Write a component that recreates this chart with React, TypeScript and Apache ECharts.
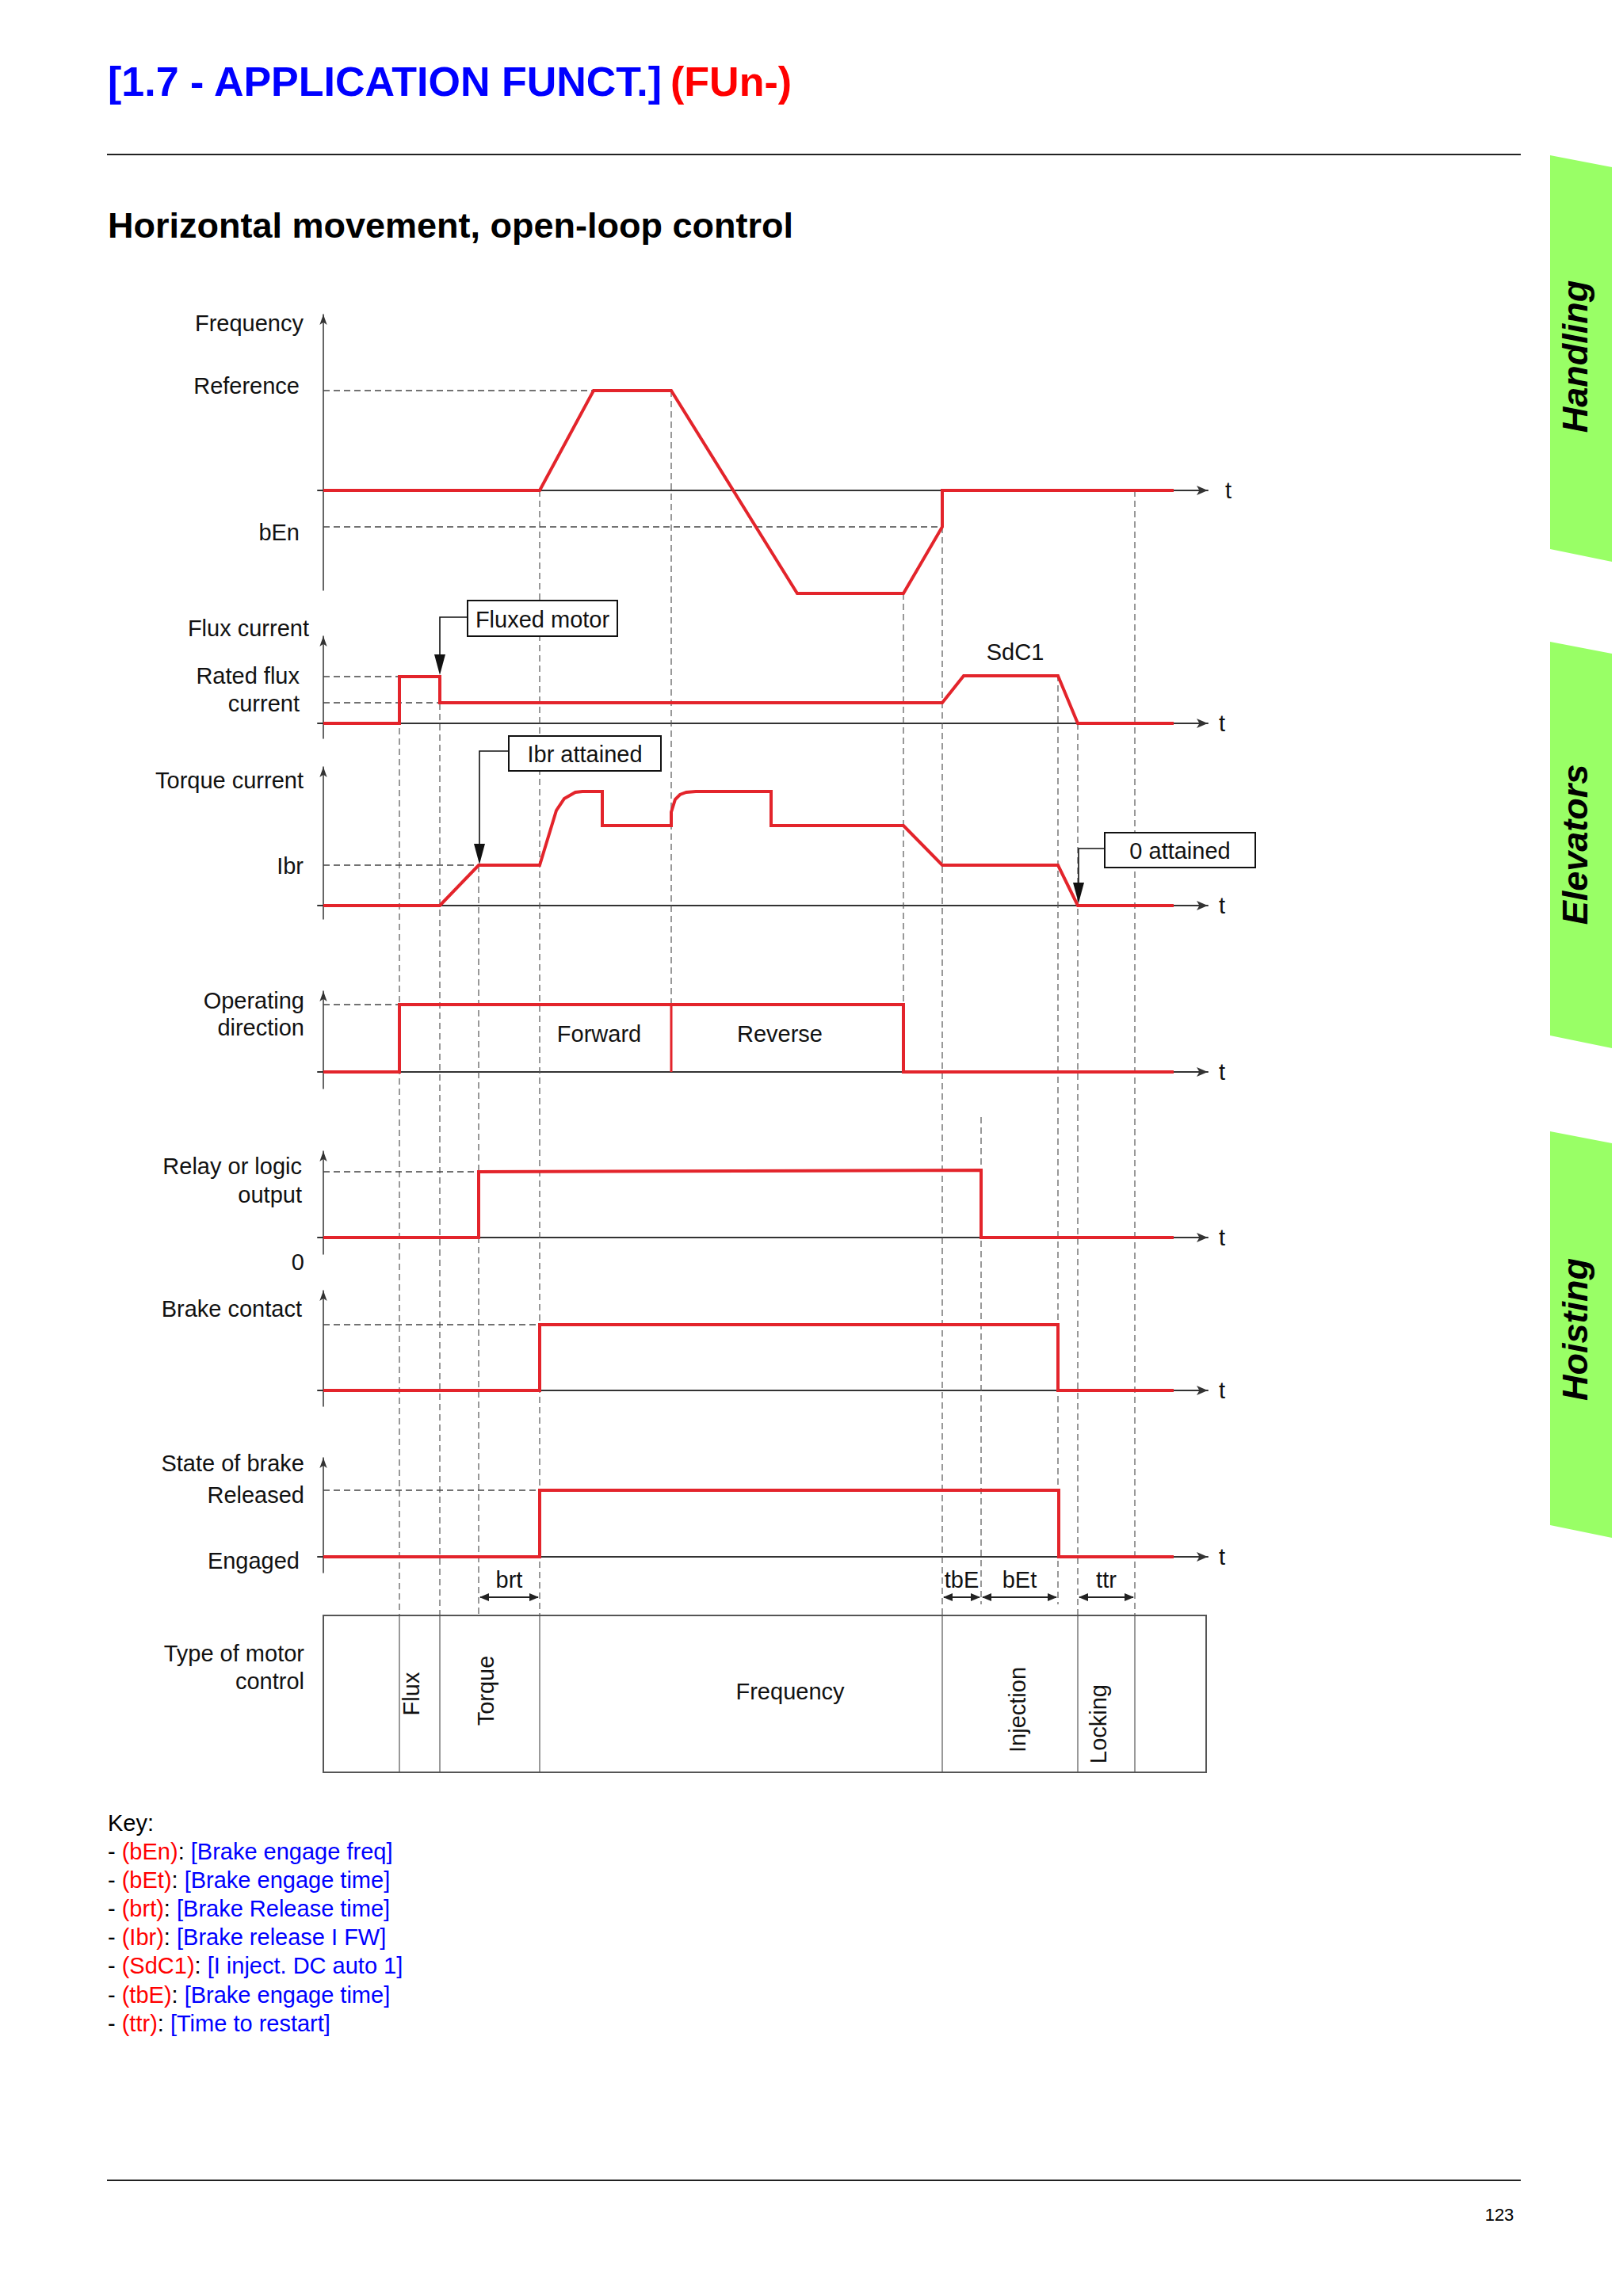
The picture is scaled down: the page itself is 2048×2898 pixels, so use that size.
import React, { useEffect, useRef } from "react";
import * as echarts from "echarts";

const FONT = '"Liberation Sans", Arial, Helvetica, sans-serif';
const RED = "#e3242b";
const INK = "#111111";
const AXIS_COLOR = "#333333";
const BLUE = "#0000ff";
const KEY_RED = "#ff0000";
const LABEL_SIZE = 29;

// ---------------- signal data (t axis units) ----------------
const freqTimes = [0, 273, 341, 439, 598, 732, 781, 781, 1073];
const freqValues = [0, 0, 126, 126, -130, -130, -46, 0, 0];
const fluxTimes = [0, 96, 96, 147, 147, 781, 808, 927, 952, 1073];
const fluxValues = [0, 0, 59, 59, 26, 26, 60, 60, 0, 0];
const torqueTimes = [0, 147, 196, 273, 294, 304, 318, 327, 352, 352, 439, 439, 444, 450, 458, 470, 565, 565, 732, 781, 927, 952, 1073];
const torqueValues = [0, 0, 51, 51, 120, 135, 143, 144, 144, 101, 101, 118, 134, 140, 143, 144, 144, 101, 101, 51, 51, 0, 0];
const directionTimes = [0, 96, 96, 732, 732, 1073];
const directionValues = [0, 0, 85, 85, 0, 0];
const directionSplitTime = 439;
const directionSplitLevel = 85;
const relayTimes = [0, 196, 196, 830, 830, 1073];
const relayValues = [0, 0, 83, 85, 0, 0];
const contactTimes = [0, 273, 273, 927, 927, 1073];
const contactValues = [0, 0, 83, 83, 0, 0];
const brakeTimes = [0, 273, 273, 928, 928, 1073];
const brakeValues = [0, 0, 84, 84, 0, 0];

// dashed reference levels per panel
const refLevels = [[126, -46], [59, 26], [51], [85], [83], [83], [84]];
const refEnds = [[341, 781], [96, 147], [196], [96], [196], [273], [273]];

// panel layout
const panelTops = [397, 803, 968, 1251, 1453, 1629, 1840];
const panelHeights = [348, 129, 192, 123, 130, 146, 145];
const panelMins = [-126, -19, -17, -21, -21, -20, -20];
const panelMaxs = [222, 110, 175, 102, 109, 126, 125];
const tNameGaps = [22, 14, 14, 14, 14, 14, 14];

// vertical event guides (t, page-y from, page-y to)
const guideTimes = [96, 147, 196, 273, 439, 732, 781, 830, 927, 952, 1024];
const guideTops = [854, 888, 1093, 619, 493, 749, 665, 1410, 852, 913, 619];
const guideBottoms = [2039, 2039, 2039, 2039, 1268, 1268, 2039, 2025, 2025, 2039, 2039];

// motor control table
const boxTimes = [0, 1114];
const boxRows = [2039, 2237];
const boxDividerTimes = [96, 147, 273, 781, 952, 1024];

// callouts
const calloutTexts = ["Fluxed motor", "Ibr attained", "0 attained"];
const calloutLeft = [182, 234, 986];
const calloutRight = [371, 426, 1176];
const calloutTop = [758, 929, 1051];
const calloutBottom = [803, 973, 1095];
const calloutStemY = [779, 948, 1071];
const calloutTargetT = [147, 197, 953];
const calloutTargetY = [852, 1091, 1140];

// timing intervals
const timingLabels = ["brt", "tbE", "bEt", "ttr"];
const timingStart = [196, 781, 830, 952];
const timingEnd = [273, 830, 927, 1024];
const timingArrowY = 2016;
const timingLabelY = 1994;

// texts placed on the time axis
const diagramTexts = ["Forward", "Reverse", "SdC1", "Flux", "Torque", "Frequency", "Injection", "Locking"];
const diagramTextT = [348, 576, 873, 111, 205, 589, 876, 978];
const diagramTextY = [1305, 1305, 823, 2138, 2134, 2135, 2158, 2176];
const diagramTextRot = [0, 0, 0, 1, 1, 0, 1, 1];

// left side labels
const sideLabels = ["Frequency", "Reference", "bEn", "Flux current", "Rated flux", "current", "Torque current", "Ibr",
  "Operating", "direction", "Relay or logic", "output", "0", "Brake contact", "State of brake", "Released", "Engaged",
  "Type of motor", "control"];
const sideLabelX = [383, 378, 378, 390, 378, 378, 383, 383, 384, 384, 381, 381, 384, 381, 384, 384, 378, 384, 384];
const sideLabelY = [408, 487, 672, 793, 853, 888, 985, 1093, 1263, 1297, 1472, 1508, 1593, 1652, 1847, 1887, 1970, 2087, 2122];

// key
const keyCodes = ["(bEn)", "(bEt)", "(brt)", "(Ibr)", "(SdC1)", "(tbE)", "(ttr)"];
const keyNames = ["[Brake engage freq]", "[Brake engage time]", "[Brake Release time]", "[Brake release I FW]",
  "[I inject. DC auto 1]", "[Brake engage time]", "[Time to restart]"];
const keyY = [2337, 2373, 2409, 2445, 2481, 2518, 2554];

// side tabs
const tabNames = ["Handling", "Elevators", "Hoisting"];
const tabTops = [196, 810, 1428];
const tabCenters = [450, 1066, 1678];

function font(size: number, bold = false, italic = false) {
  return `${italic ? "italic " : ""}${bold ? "bold " : ""}${size}px ${FONT}`;
}

function txt(text: string, x: number, y: number, o: any = {}) {
  const align = o.align || "left";
  return {
    type: "text",
    x,
    y,
    z: 20,
    rotation: o.rotation || 0,
    silent: true,
    style: {
      text,
      font: font(o.size || LABEL_SIZE, o.bold, o.italic),
      fill: o.color || INK,
      align,
      textAlign: align,
      verticalAlign: "middle",
      textVerticalAlign: "middle",
    },
  };
}

function textEl(text: string, x: number, y: number, rotation = 0) {
  return {
    type: "text",
    x,
    y,
    rotation,
    style: {
      text,
      font: font(LABEL_SIZE),
      fill: INK,
      align: "center",
      textAlign: "center",
      verticalAlign: "middle",
      textVerticalAlign: "middle",
    },
  };
}

function buildOption() {
  const signals = [
    [freqTimes, freqValues],
    [fluxTimes, fluxValues],
    [torqueTimes, torqueValues],
    [directionTimes, directionValues],
    [relayTimes, relayValues],
    [contactTimes, contactValues],
    [brakeTimes, brakeValues],
  ];

  const grid: any[] = [{ left: 401, width: 1123, top: 0, height: 2898 }];
  const xAxis: any[] = [{ gridIndex: 0, type: "value", min: -7, max: 1116, show: false }];
  const yAxis: any[] = [{ gridIndex: 0, type: "value", min: 0, max: 2898, inverse: true, show: false }];
  const series: any[] = [];

  signals.forEach(([times, values], k) => {
    const gi = k + 1;
    grid.push({ left: 401, width: 1123, top: panelTops[k], height: panelHeights[k] });
    xAxis.push({
      gridIndex: gi,
      type: "value",
      min: -7,
      max: 1116,
      axisLine: {
        show: true,
        onZero: true,
        symbol: ["none", "arrow"],
        symbolSize: [9, 14],
        lineStyle: { color: AXIS_COLOR, width: 2 },
      },
      axisTick: { show: false },
      axisLabel: { show: false },
      splitLine: { show: false },
      name: "t",
      nameLocation: "end",
      nameGap: tNameGaps[k],
      nameTextStyle: { fontSize: LABEL_SIZE, fontFamily: FONT, color: INK, verticalAlign: "middle" },
    });
    yAxis.push({
      gridIndex: gi,
      type: "value",
      min: panelMins[k],
      max: panelMaxs[k],
      axisLine: {
        show: true,
        onZero: true,
        symbol: ["none", "arrow"],
        symbolSize: [7, 13],
        lineStyle: { color: AXIS_COLOR, width: 1.5 },
      },
      axisTick: { show: false },
      axisLabel: { show: false },
      splitLine: { show: false },
    });
    series.push({
      type: "line",
      xAxisIndex: gi,
      yAxisIndex: gi,
      data: (times as number[]).map((t, i) => [t, (values as number[])[i]]),
      symbol: "none",
      showSymbol: false,
      clip: false,
      silent: true,
      z: 5,
      lineStyle: { color: RED, width: 4, join: "miter" },
    });
    refLevels[k].forEach((lv, j) => {
      series.push({
        type: "line",
        xAxisIndex: gi,
        yAxisIndex: gi,
        data: [[0, lv], [refEnds[k][j], lv]],
        symbol: "none",
        showSymbol: false,
        silent: true,
        z: 3,
        lineStyle: { color: "#444444", width: 1.5, type: [8, 5] },
      });
    });
  });

  // Forward / Reverse boundary
  series.push({
    type: "line",
    xAxisIndex: 4,
    yAxisIndex: 4,
    data: [[directionSplitTime, directionSplitLevel], [directionSplitTime, 0]],
    symbol: "none",
    silent: true,
    z: 5,
    lineStyle: { color: RED, width: 3 },
  });

  // vertical guides
  series.push({
    type: "custom",
    xAxisIndex: 0,
    yAxisIndex: 0,
    z: 2,
    clip: false,
    silent: true,
    data: guideTimes.map((t, i) => [t, guideTops[i], guideBottoms[i]]),
    encode: { x: 0, y: 1 },
    renderItem: (params: any, api: any) => {
      const t = api.value(0);
      const a = api.coord([t, api.value(1)]);
      const b = api.coord([t, api.value(2)]);
      return {
        type: "line",
        shape: { x1: a[0], y1: a[1], x2: b[0], y2: b[1] },
        style: { stroke: "#555555", lineWidth: 1.2, lineDash: [8, 5], fill: null },
      };
    },
  });

  // motor control table
  series.push({
    type: "custom",
    xAxisIndex: 0,
    yAxisIndex: 0,
    z: 2,
    clip: false,
    silent: true,
    data: [[boxTimes[0], boxRows[0]]],
    encode: { x: 0, y: 1 },
    renderItem: (params: any, api: any) => {
      const tl = api.coord([boxTimes[0], boxRows[0]]);
      const br = api.coord([boxTimes[1], boxRows[1]]);
      const children: any[] = [
        {
          type: "rect",
          shape: { x: tl[0], y: tl[1], width: br[0] - tl[0], height: br[1] - tl[1] },
          style: { fill: "none", stroke: "#555555", lineWidth: 2 },
        },
      ];
      boxDividerTimes.forEach((t) => {
        const a = api.coord([t, boxRows[0]]);
        const b = api.coord([t, boxRows[1]]);
        children.push({
          type: "line",
          shape: { x1: a[0], y1: a[1], x2: b[0], y2: b[1] },
          style: { stroke: "#555555", lineWidth: 1.2 },
        });
      });
      return { type: "group", children };
    },
  });

  // callouts
  series.push({
    type: "custom",
    xAxisIndex: 0,
    yAxisIndex: 0,
    z: 8,
    clip: false,
    silent: true,
    data: calloutTexts.map((_, i) => [calloutLeft[i], calloutTop[i]]),
    encode: { x: 0, y: 1 },
    renderItem: (params: any, api: any) => {
      const i = params.dataIndex;
      const tl = api.coord([calloutLeft[i], calloutTop[i]]);
      const br = api.coord([calloutRight[i], calloutBottom[i]]);
      const s = api.coord([calloutLeft[i], calloutStemY[i]]);
      const c = api.coord([calloutTargetT[i], calloutStemY[i]]);
      const tip = api.coord([calloutTargetT[i], calloutTargetY[i]]);
      const hl = 26;
      const hw = 7;
      return {
        type: "group",
        children: [
          {
            type: "rect",
            shape: { x: tl[0], y: tl[1], width: br[0] - tl[0], height: br[1] - tl[1] },
            style: { fill: "#ffffff", stroke: "#111111", lineWidth: 2 },
          },
          textEl(calloutTexts[i], (tl[0] + br[0]) / 2, (tl[1] + br[1]) / 2 + 1),
          {
            type: "polyline",
            shape: { points: [s, c, [tip[0], tip[1] - hl]] },
            style: { stroke: "#111111", lineWidth: 1.6, fill: null },
          },
          {
            type: "polygon",
            shape: { points: [[tip[0] - hw, tip[1] - hl], [tip[0] + hw, tip[1] - hl], [tip[0], tip[1]]] },
            style: { fill: "#111111" },
          },
        ],
      };
    },
  });

  // timing intervals
  series.push({
    type: "custom",
    xAxisIndex: 0,
    yAxisIndex: 0,
    z: 8,
    clip: false,
    silent: true,
    data: timingLabels.map((_, i) => [timingStart[i], timingArrowY]),
    encode: { x: 0, y: 1 },
    renderItem: (params: any, api: any) => {
      const i = params.dataIndex;
      const a = api.coord([timingStart[i], timingArrowY]);
      const b = api.coord([timingEnd[i], timingArrowY]);
      const l = api.coord([(timingStart[i] + timingEnd[i]) / 2, timingLabelY]);
      const hl = 13;
      const hw = 5;
      return {
        type: "group",
        children: [
          {
            type: "line",
            shape: { x1: a[0] + 2, y1: a[1], x2: b[0] - 2, y2: b[1] },
            style: { stroke: "#222222", lineWidth: 2 },
          },
          {
            type: "polygon",
            shape: { points: [[a[0] + 1, a[1]], [a[0] + hl, a[1] - hw], [a[0] + hl, a[1] + hw]] },
            style: { fill: "#222222" },
          },
          {
            type: "polygon",
            shape: { points: [[b[0] - 1, b[1]], [b[0] - hl, b[1] - hw], [b[0] - hl, b[1] + hw]] },
            style: { fill: "#222222" },
          },
          textEl(timingLabels[i], l[0], l[1]),
        ],
      };
    },
  });

  // texts positioned on the time axis
  series.push({
    type: "custom",
    xAxisIndex: 0,
    yAxisIndex: 0,
    z: 8,
    clip: false,
    silent: true,
    data: diagramTexts.map((_, i) => [diagramTextT[i], diagramTextY[i]]),
    encode: { x: 0, y: 1 },
    renderItem: (params: any, api: any) => {
      const i = params.dataIndex;
      const p = api.coord([api.value(0), api.value(1)]);
      return textEl(diagramTexts[i], p[0], p[1], diagramTextRot[i] ? Math.PI / 2 : 0);
    },
  });

  // ---------- page graphics ----------
  const elements: any[] = [];
  elements.push(txt("[1.7 - APPLICATION FUNCT.]", 136, 103, { size: 52, bold: true, color: BLUE }));
  elements.push(txt("(FUn-)", 846, 103, { size: 52, bold: true, color: KEY_RED }));
  elements.push({ type: "line", shape: { x1: 135, y1: 195, x2: 1919, y2: 195 }, style: { stroke: "#222222", lineWidth: 2 } });
  elements.push(txt("Horizontal movement, open-loop control", 136, 284, { size: 45, bold: true, color: "#000000" }));

  sideLabels.forEach((s, i) => elements.push(txt(s, sideLabelX[i], sideLabelY[i], { align: "right" })));

  elements.push(txt("Key:", 136, 2301, { size: 29, color: "#000000" }));
  keyCodes.forEach((code, i) => {
    elements.push({
      type: "text",
      x: 136,
      y: keyY[i],
      z: 20,
      silent: true,
      style: {
        text: `{k|- }{r|${code}}{k|: }{b|${keyNames[i]}}`,
        font: font(29),
        fill: "#000000",
        align: "left",
        textAlign: "left",
        verticalAlign: "middle",
        textVerticalAlign: "middle",
        rich: {
          k: { fill: "#000000", font: font(29) },
          r: { fill: KEY_RED, font: font(29) },
          b: { fill: BLUE, font: font(29) },
        },
      },
    });
  });

  elements.push({ type: "line", shape: { x1: 135, y1: 2752, x2: 1919, y2: 2752 }, style: { stroke: "#222222", lineWidth: 2 } });
  elements.push(txt("123", 1892, 2795, { size: 22, align: "center", color: "#000000" }));

  tabNames.forEach((name, i) => {
    const top = tabTops[i];
    elements.push({
      type: "polygon",
      z: 1,
      silent: true,
      shape: { points: [[1956, top], [2034, top + 15], [2034, top + 513], [1956, top + 497]] },
      style: { fill: "#99ff66" },
    });
    elements.push(txt(name, 1987, tabCenters[i], { size: 45, bold: true, italic: true, align: "center", rotation: Math.PI / 2, color: "#000000" }));
  });

  return {
    animation: false,
    backgroundColor: "#ffffff",
    tooltip: { show: false },
    grid,
    xAxis,
    yAxis,
    series,
    graphic: { elements },
  };
}

export default function App() {
  const ref = useRef<HTMLDivElement>(null);
  useEffect(() => {
    if (!ref.current) return;
    const chart = echarts.init(ref.current, null, { renderer: "svg" });
    chart.setOption(buildOption() as any);
    return () => chart.dispose();
  }, []);
  return (
    <div
      ref={ref}
      style={{ position: "absolute", left: 0, top: 0, width: 2048, height: 2898, background: "#ffffff" }}
    />
  );
}
